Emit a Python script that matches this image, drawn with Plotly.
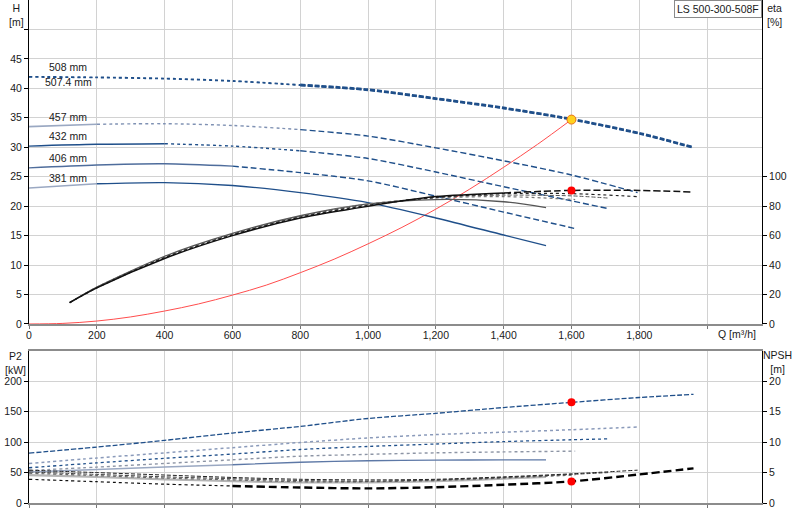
import plotly.graph_objects as go

# pump curves LS 500-300-508F
diam = ["508", "507.4", "457", "432", "406", "381"]

q_h = {
    "508":   [0, 200, 400, 600, 800, 1000, 1200, 1400, 1600, 1800, 1960],
    "507.4": [0, 200, 400, 600, 800, 1000, 1200, 1400, 1600, 1800, 1960],
    "457":   [0, 200, 400, 600, 800, 1000, 1200, 1400, 1600, 1795],
    "432":   [0, 200, 400, 600, 800, 1000, 1200, 1400, 1600, 1708],
    "406":   [0, 200, 400, 600, 800, 1000, 1200, 1400, 1611],
    "381":   [0, 200, 400, 600, 800, 1000, 1200, 1400, 1525],
}
head = {
    "508":   [42.0, 41.9, 41.7, 41.3, 40.6, 39.8, 38.3, 36.7, 34.8, 32.4, 30.0],
    "507.4": [41.9, 41.8, 41.6, 41.2, 40.5, 39.7, 38.2, 36.6, 34.7, 32.3, 29.9],
    "457":   [33.5, 33.9, 34.0, 33.7, 33.0, 31.9, 29.9, 27.7, 25.3, 22.3],
    "432":   [30.2, 30.5, 30.6, 30.2, 29.4, 28.1, 25.8, 23.3, 20.9, 19.6],
    "406":   [26.5, 27.0, 27.2, 26.8, 25.7, 24.3, 21.7, 19.0, 16.2],
    "381":   [23.1, 23.8, 24.0, 23.5, 22.3, 20.6, 18.0, 15.1, 13.3],
}

q_eta = {
    "508": [120, 200, 400, 600, 800, 1000, 1200, 1400, 1600, 1800, 1960],
    "457": [120, 200, 400, 600, 800, 1000, 1200, 1400, 1600, 1795],
    "432": [120, 200, 400, 600, 800, 1000, 1200, 1400, 1600, 1708],
    "406": [120, 200, 400, 600, 800, 1000, 1200, 1400, 1611],
    "381": [120, 200, 400, 600, 800, 1000, 1200, 1400, 1525],
}
eta = {
    "508": [14.5, 24.5, 44.5, 60.0, 72.0, 80.0, 86.5, 89.0, 90.7, 90.7, 89.6],
    "457": [14.5, 24.5, 45.0, 60.5, 72.5, 80.5, 86.0, 88.5, 88.5, 86.5],
    "432": [14.5, 25.0, 45.5, 61.0, 73.0, 81.0, 86.0, 87.5, 87.0, 85.5],
    "406": [14.5, 25.0, 45.5, 61.0, 73.0, 81.5, 85.5, 86.5, 84.5],
    "381": [14.5, 25.0, 46.0, 61.5, 73.5, 81.5, 84.5, 83.0, 79.0],
}

p2 = {
    "508": [82, 92, 103, 115, 126, 139, 147.5, 157, 165.5, 173.5, 178.7],
    "457": [65, 74, 82.5, 91, 99.5, 107, 112.5, 116.5, 120.5, 125],
    "432": [58, 66, 73.5, 80.5, 88, 93, 97, 101, 104, 105.5],
    "406": [53.5, 59, 65, 71, 77, 80, 82.5, 84, 85.3],
    "381": [51, 55, 59, 63, 67, 69.5, 70.5, 71, 71],
}
npsh = {
    "508": [3.9, 3.5, 3.1, 2.8, 2.55, 2.4, 2.6, 3.0, 3.55, 4.7, 5.7],
    "457": [5.4, 5.0, 4.6, 4.2, 3.9, 3.8, 3.9, 4.3, 4.8, 5.4],
    "432": [5.1, 4.7, 4.3, 4.0, 3.7, 3.6, 3.8, 4.2, 4.7, 5.0],
    "406": [4.9, 4.5, 4.1, 3.8, 3.5, 3.5, 3.7, 4.1, 4.6],
    "381": [4.6, 4.3, 3.9, 3.6, 3.4, 3.4, 3.6, 4.0, 4.3],
}

q_sys = [0, 100, 200, 300, 400, 500, 600, 700, 800, 900, 1000, 1100, 1200, 1300, 1400, 1500, 1600]
h_sys = [0, 0.1, 0.5, 1.2, 2.2, 3.4, 4.9, 6.6, 8.7, 11.0, 13.6, 16.4, 19.5, 22.9, 26.6, 30.5, 34.7]

duty_q = 1600
duty_h = 34.7
duty_eta = 90.7
duty_p2 = 165.5
duty_npsh = 3.55

q_ticks = [0, 200, 400, 600, 800, 1000, 1200, 1400, 1600, 1800, 2000]

BLUE = "#1f4f8a"
LBLUE = "#9aa8c2"
FONT = "Liberation Sans"

# line styles: (q from, q to, colour, dash, width)
h_style = {
    "508":   [(0, 800, BLUE, "dot", 1.4), (800, 9999, BLUE, "5px,2px", 2.4)],
    "507.4": [(0, 800, BLUE, "dot", 1.2), (800, 9999, BLUE, "5px,2px", 2.0)],
    "457":   [(0, 200, LBLUE, "solid", 1.6), (200, 800, "#7f91b3", "dot", 1.4), (800, 9999, BLUE, "6px,3px", 1.4)],
    "432":   [(0, 400, BLUE, "solid", 1.4), (400, 800, BLUE, "dot", 1.4), (800, 9999, BLUE, "6px,3px", 1.4)],
    "406":   [(0, 600, "#4f6d9c", "solid", 1.4), (600, 9999, BLUE, "6px,3px", 1.4)],
    "381":   [(0, 200, LBLUE, "solid", 1.5), (200, 9999, BLUE, "solid", 1.4)],
}
eta_style = {
    "508": [(0, 1400, "#111111", "solid", 1.5), (1400, 9999, "#111111", "7px,3px", 1.5)],
    "457": [(0, 9999, "#222222", "dot", 1.2)],
    "432": [(0, 9999, "#555555", "4px,2px", 1.0)],
    "406": [(0, 9999, "#777777", "dot", 1.2)],
    "381": [(0, 9999, "#555555", "solid", 1.3)],
}
p2_style = {
    "508": [(0, 9999, BLUE, "5px,2px", 1.3)],
    "457": [(0, 9999, "#8a9aba", "dot", 1.5)],
    "432": [(0, 9999, BLUE, "dot", 1.3)],
    "406": [(0, 9999, "#8d95a5", "dot", 1.4)],
    "381": [(0, 600, LBLUE, "solid", 1.5), (600, 9999, "#5d78a6", "solid", 1.4)],
}
npsh_style = {
    "508": [(0, 600, "#111111", "dot", 1.2), (600, 9999, "#000000", "8px,4px", 2.4)],
    "457": [(0, 9999, "#222222", "4px,2px", 1.0)],
    "432": [(0, 9999, "#444444", "4px,2px", 1.0)],
    "406": [(0, 9999, "#666666", "dot", 1.2)],
    "381": [(0, 9999, "#b5b5b5", "solid", 2.2)],
}


def add_curve(fig, q, v, styles, xa, ya):
    for q0, q1, col, dash, w in styles:
        xs = [a for a in q if q0 <= a <= q1]
        ys = [b for a, b in zip(q, v) if q0 <= a <= q1]
        fig.add_trace(go.Scatter(x=xs, y=ys, mode="lines", xaxis=xa, yaxis=ya,
                                 line=dict(color=col, dash=dash, width=w, shape="spline", smoothing=0.8),
                                 hoverinfo="skip", showlegend=False))


fig = go.Figure()

# system curve
fig.add_trace(go.Scatter(x=q_sys, y=h_sys, mode="lines", xaxis="x", yaxis="y",
                         line=dict(color="#ff4d4d", width=1, shape="spline"),
                         hoverinfo="skip", showlegend=False))

for d in diam[::-1]:
    add_curve(fig, q_h[d], head[d], h_style[d], "x", "y")
for d in ["381", "406", "432", "457", "508"]:
    add_curve(fig, q_eta[d], eta[d], eta_style[d], "x", "y2")
    add_curve(fig, q_h[d], p2[d], p2_style[d], "x2", "y3")
    add_curve(fig, q_h[d], npsh[d], npsh_style[d], "x2", "y4")

# duty points
fig.add_trace(go.Scatter(x=[duty_q], y=[duty_h], mode="markers", xaxis="x", yaxis="y",
                         marker=dict(size=9, color="#ffd21f", line=dict(color="#e8731a", width=1)),
                         hoverinfo="skip", showlegend=False))
fig.add_trace(go.Scatter(x=[duty_q], y=[duty_eta], mode="markers", xaxis="x", yaxis="y2",
                         marker=dict(size=8, color="#ff0000"), hoverinfo="skip", showlegend=False))
fig.add_trace(go.Scatter(x=[duty_q], y=[duty_p2], mode="markers", xaxis="x2", yaxis="y3",
                         marker=dict(size=8, color="#ff0000"), hoverinfo="skip", showlegend=False))
fig.add_trace(go.Scatter(x=[duty_q], y=[duty_npsh], mode="markers", xaxis="x2", yaxis="y4",
                         marker=dict(size=8, color="#ff0000"), hoverinfo="skip", showlegend=False))

tickfont = dict(family=FONT, size=10.5, color="#1a1a1a")
grid = "#d2d2d2"
q_text = [f"{v:,}" for v in q_ticks[:-1]] + [""]

xcommon = dict(range=[0, 2162], tickvals=q_ticks, showgrid=True, gridcolor=grid, gridwidth=1,
               showline=True, linecolor="#8c8c8c", linewidth=2, mirror=True, zeroline=False,
               ticks="outside", ticklen=3, tickcolor="#777777", tickfont=tickfont)

fig.update_layout(
    width=800, height=520,
    margin=dict(l=29, r=38, t=0, b=17, autoexpand=False),
    paper_bgcolor="white", plot_bgcolor="white",
    font=dict(family=FONT, size=10.5, color="#1a1a1a"),
    xaxis=dict(**xcommon, anchor="y", ticktext=q_text, ticklabelstandoff=-3),
    xaxis2=dict(**xcommon, anchor="y3", showticklabels=False, matches="x"),
    yaxis=dict(domain=[0.3559, 1], range=[0, 55], tickvals=[0, 5, 10, 15, 20, 25, 30, 35, 40, 45, 50],
               ticktext=["0", "5", "10", "15", "20", "25", "30", "35", "40", "45", ""],
               showgrid=True, gridcolor=grid, zeroline=False, showline=True, linecolor="black",
               linewidth=1, ticks="outside", ticklen=4, tickcolor="black", tickfont=tickfont),
    yaxis2=dict(overlaying="y", side="right", anchor="x", range=[0, 220],
                tickvals=[0, 20, 40, 60, 80, 100], showgrid=False, zeroline=False, showline=True,
                linecolor="black", linewidth=1, ticks="outside", ticklen=4, tickcolor="black",
                tickfont=tickfont),
    yaxis3=dict(domain=[0, 0.3022], anchor="x2", range=[0, 250], tickvals=[0, 50, 100, 150, 200],
                showgrid=True, gridcolor=grid, zeroline=False, showline=True, linecolor="black",
                linewidth=1, ticks="outside", ticklen=4, tickcolor="black", tickfont=tickfont),
    yaxis4=dict(overlaying="y3", side="right", anchor="x2", range=[0, 25], tickvals=[0, 5, 10, 15, 20],
                showgrid=False, zeroline=False, showline=True, linecolor="black", linewidth=1,
                ticks="outside", ticklen=4, tickcolor="black", tickfont=tickfont),
)

ann = [
    dict(text="H<br>[m]", x=-0.0164, y=1.0, xanchor="center", yanchor="top"),
    dict(text="eta<br>[%]", x=1.0177, y=1.0, xanchor="center", yanchor="top"),
    dict(text="P2<br>[kW]", x=-0.019, y=0.308, xanchor="center", yanchor="top"),
    dict(text="NPSH<br>[m]", x=1.021, y=0.310, xanchor="center", yanchor="top"),
    dict(text="Q [m³/h]", x=0.966, y=0.336, xanchor="center", yanchor="middle"),
]
for a in ann:
    fig.add_annotation(xref="paper", yref="paper", showarrow=False, font=tickfont, **a)

fig.add_annotation(text="LS 500-300-508F", xref="paper", yref="paper", x=1.0, y=1.0,
                   xanchor="right", yanchor="top", showarrow=False, font=tickfont,
                   bgcolor="white", bordercolor="#8a8a8a", borderwidth=1, borderpad=2)

# diameter labels just above the start of each head curve
for d in diam:
    off = -0.8 if d == "507.4" else 1.7
    fig.add_annotation(text=f"{d} mm", x=40 if d == "507.4" else 53, y=head[d][0] + off,
                       xref="x", yref="y", xanchor="left", yanchor="middle",
                       showarrow=False, font=tickfont)

fig.write_html("out.html", config={"displayModeBar": False},
               post_script="document.body.style.margin='0';")
